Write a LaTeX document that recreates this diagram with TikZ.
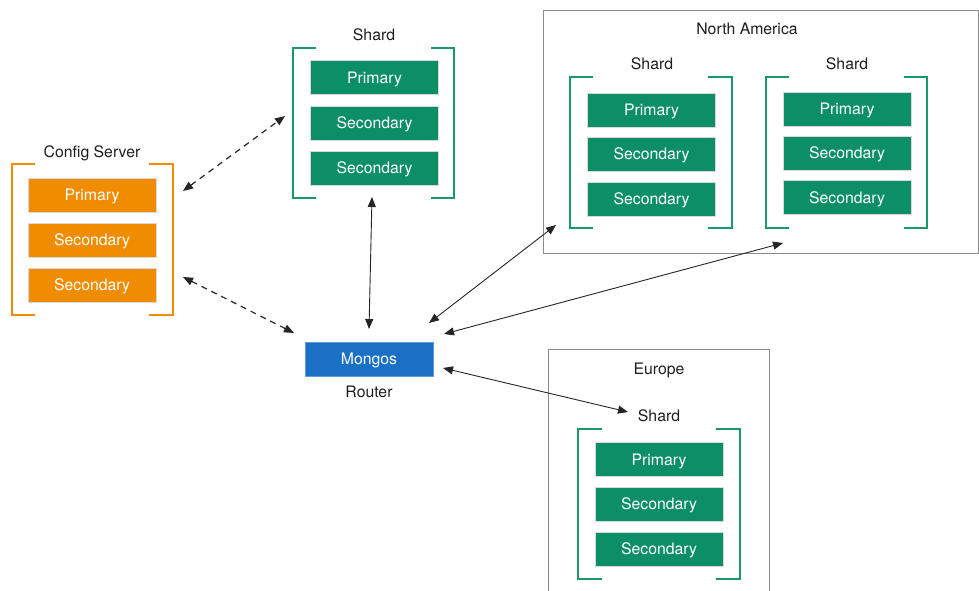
\documentclass[tikz,border=0pt]{standalone}
\usepackage{fontspec}
\setmainfont{TeX Gyre Heros}
\usetikzlibrary{arrows.meta}
\definecolor{mgreen}{HTML}{0C8F66}
\definecolor{bgreen}{HTML}{17996D}
\definecolor{morange}{HTML}{F08C00}
\definecolor{mblue}{HTML}{1A70C4}
\definecolor{txt}{HTML}{1E1E1E}
\definecolor{regionline}{HTML}{8A8A8A}
\begin{document}
\begin{tikzpicture}[x=1pt,y=-1pt,
  member/.style={minimum width=128pt, minimum height=34pt, inner sep=0pt, text=white,
    text height=11.2pt, text depth=0pt,
    draw=white!85!black, line width=0.4pt, font=\fontsize{15.8}{18}\selectfont},
  gmember/.style={member, fill=mgreen},
  omember/.style={member, fill=morange},
  label/.style={text=txt, inner sep=0pt, text height=11.2pt, text depth=0pt,
    font=\fontsize{15.8}{18}\selectfont},
  gbracket/.style={draw=bgreen, line width=2pt},
  obracket/.style={draw=morange, line width=2pt},
  region/.style={draw=regionline, line width=1pt},
  conn/.style={{Triangle[length=10pt,width=8pt]}-{Triangle[length=10pt,width=8pt]}, line width=0.9pt, draw=black!85},
  dconn/.style={conn, line width=1.2pt, dash pattern=on 6pt off 5pt}
]
\useasboundingbox (0,0) rectangle (979,591);
\fill[white] (0,0) rectangle (979,591);

% regions
\draw[region] (543,11) rectangle (978.5,253);
\draw[region] (548,592) -- (548,349) -- (769,349) -- (769,592);
\node[label] (naLabel) at (747,29) {North America};
\node[label] (euLabel) at (659,369) {Europe};

% config server
\node[label] (csLabel) at (92,152) {Config Server};
\node[omember] (cs1) at (92,195) {Primary};
\node[omember] (cs2) at (92,240) {Secondary};
\node[omember] (cs3) at (92,285) {Secondary};
\draw[obracket] (35,164) -- (12,164) -- (12,315) -- (35,315);
\draw[obracket] (149,164) -- (173,164) -- (173,315) -- (149,315);

% top shard
\node[label] (s1Label) at (374,35) {Shard};
\node[gmember] (s1a) at (374.5,77.5) {Primary};
\node[gmember] (s1b) at (374.5,123) {Secondary};
\node[gmember] (s1c) at (374.5,168) {Secondary};
\draw[gbracket] (316,48) -- (293,48) -- (293,198) -- (316,198);
\draw[gbracket] (431,48) -- (454,48) -- (454,198) -- (431,198);

% north america shard 1
\node[label] (na1Label) at (652,64) {Shard};
\node[gmember] (na1a) at (651.5,110) {Primary};
\node[gmember] (na1b) at (651.5,154) {Secondary};
\node[gmember] (na1c) at (651.5,199) {Secondary};
\draw[gbracket] (593,77) -- (570,77) -- (570,228) -- (593,228);
\draw[gbracket] (708,77) -- (732,77) -- (732,228) -- (708,228);

% north america shard 2
\node[label] (na2Label) at (847,64) {Shard};
\node[gmember] (na2a) at (847,109) {Primary};
\node[gmember] (na2b) at (847,153) {Secondary};
\node[gmember] (na2c) at (847,197.5) {Secondary};
\draw[gbracket] (789,77) -- (766,77) -- (766,228) -- (789,228);
\draw[gbracket] (904,77) -- (927,77) -- (927,228) -- (904,228);

% europe shard
\node[label] (euShLabel) at (659,416) {Shard};
\node[gmember] (eua) at (659,459.5) {Primary};
\node[gmember] (eub) at (659,504) {Secondary};
\node[gmember] (euc) at (659,549) {Secondary};
\draw[gbracket] (602,429) -- (578,429) -- (578,579) -- (602,579);
\draw[gbracket] (716,429) -- (740,429) -- (740,579) -- (716,579);

% router
\node[member, fill=mblue, draw=mblue!70!white] (mongos) at (369,359) {Mongos};
\node[label] (router) at (369,392) {Router};

% connector end points
\coordinate (csTop) at (183,191);
\coordinate (s1Left) at (285,116);
\coordinate (csBot) at (183,277);
\coordinate (rLeft) at (294,333);
\coordinate (s1Bot) at (372,197);
\coordinate (rTop) at (369,329);
\coordinate (rNA1) at (429,323);
\coordinate (na1End) at (556,225);
\coordinate (rNA2) at (444,334);
\coordinate (na2End) at (783,243);
\coordinate (rEU) at (443,368);
\coordinate (euEnd) at (628,412);

\draw[dconn] (csTop) -- (s1Left);
\draw[dconn] (csBot) -- (rLeft);
\draw[conn] (s1Bot) -- (rTop);
\draw[conn] (rNA1) -- (na1End);
\draw[conn] (rNA2) -- (na2End);
\draw[conn] (rEU) -- (euEnd);
\end{tikzpicture}
\end{document}
